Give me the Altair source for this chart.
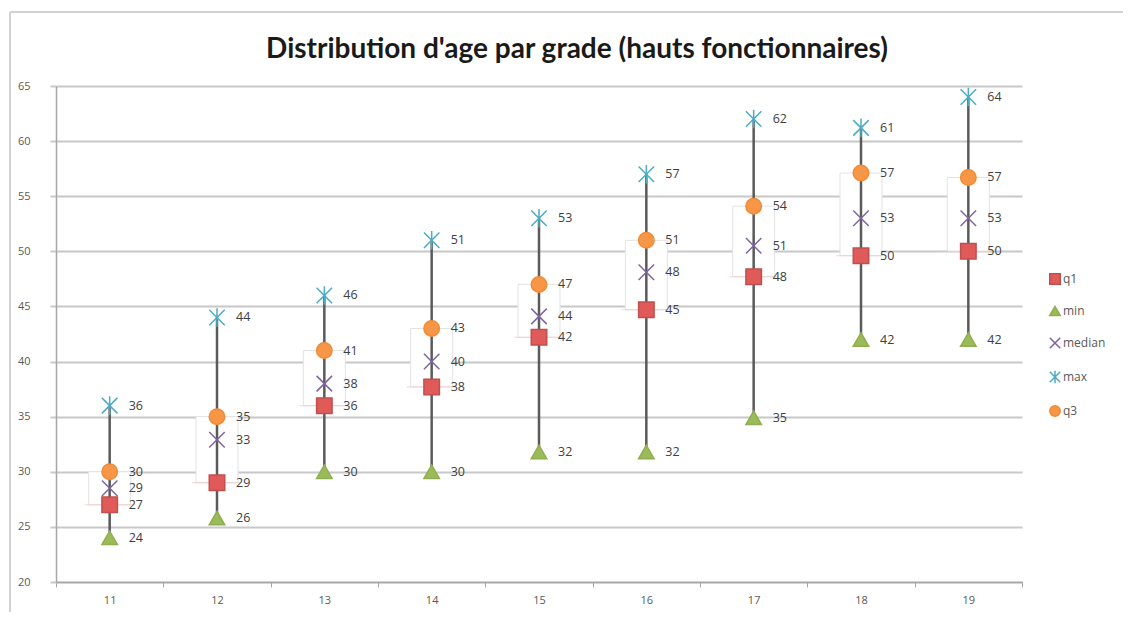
import altair as alt
import pandas as pd

grades = ["11", "12", "13", "14", "15", "16", "17", "18", "19"]
mins = [24, 25.8, 30, 30, 31.8, 31.8, 34.9, 42, 42]
q1s = [27, 29, 36, 37.7, 42.2, 44.7, 47.7, 49.6, 50]
medians = [28.5, 32.9, 38, 40, 44.1, 48.1, 50.5, 53, 53]
q3s = [30, 35, 41, 43, 47, 51, 54.1, 57.1, 56.7]
maxs = [36, 44, 46, 51, 53, 57, 62, 61.2, 64]

title_text = "Distribution d'age par grade (hauts fonctionnaires)"

series_order = ["q1", "min", "median", "max", "q3"]
series_values = {"q1": q1s, "min": mins, "median": medians, "max": maxs, "q3": q3s}

wide = pd.DataFrame({"grade": grades, "min": mins, "q1": q1s,
                     "median": medians, "q3": q3s, "max": maxs})
long = pd.DataFrame([
    {"grade": g, "series": s, "value": v}
    for s in series_order for g, v in zip(grades, series_values[s])
])

FONT = "Open Sans"
xenc = alt.X("grade:N", sort=grades,
             scale=alt.Scale(type="band", paddingInner=0, paddingOuter=0),
             axis=alt.Axis(title=None, labelAngle=0, tickBand="extent", grid=False,
                           domainColor="#a6a6a6", domainWidth=1.5, tickColor="#a6a6a6",
                           tickSize=5, labelPadding=7, labelFont=FONT, labelFontSize=11,
                           labelColor="#595959"))
yscale = alt.Scale(domain=[20, 65], nice=False, zero=False)
yaxis = alt.Axis(title=None, values=list(range(20, 70, 5)), gridColor="#c8c8c8",
                 gridWidth=2, tickColor="#c8c8c8", tickWidth=2, tickSize=6,
                 domainColor="#a6a6a6", domainWidth=1.5, labelPadding=20,
                 labelFont=FONT, labelFontSize=11, labelColor="#595959")

box = alt.Chart(wide).mark_bar(size=42, fill="white", stroke="#e3e3e3", strokeWidth=1).encode(
    x=xenc,
    y=alt.Y("q1:Q", scale=yscale, axis=yaxis),
    y2="q3:Q",
)

q1tick = alt.Chart(wide).mark_tick(size=50, thickness=1, color="#efc4c4").encode(
    x=xenc, y=alt.Y("q1:Q", scale=yscale),
)

rule = alt.Chart(wide).mark_rule(color="#5a5a5a", strokeWidth=2.5).encode(
    x=xenc, y=alt.Y("min:Q", scale=yscale), y2="max:Q",
)

xpath = "M-1,-1L1,1M-1,1L1,-1"
starpath = "M-1,-1L1,1M-1,1L1,-1M0,-1.2L0,1.2"
shape_range = ["square", "triangle-up", xpath, starpath, "circle"]
fill_range = ["#e05a5a", "#9bbb59", "transparent", "transparent", "#f79646"]
stroke_range = ["#c0504d", "#8fae4f", "#8064a2", "#4bacc6", "#f08c38"]

legend = alt.Legend(title=None, orient="none", legendX=993, legendY=187,
                    labelFont=FONT, labelFontSize=12, labelColor="#595959",
                    symbolSize=110, symbolStrokeWidth=1.5, rowPadding=15,
                    labelOffset=2)

points = alt.Chart(long).mark_point(size=240, strokeWidth=1.5, opacity=1).encode(
    x=xenc,
    y=alt.Y("value:Q", scale=yscale),
    shape=alt.Shape("series:N", sort=series_order,
                    scale=alt.Scale(domain=series_order, range=shape_range), legend=legend),
    fill=alt.Fill("series:N", sort=series_order,
                  scale=alt.Scale(domain=series_order, range=fill_range), legend=legend),
    stroke=alt.Stroke("series:N", sort=series_order,
                      scale=alt.Scale(domain=series_order, range=stroke_range), legend=legend),
)

labels = alt.Chart(long).mark_text(align="left", baseline="middle", dx=19,
                                   font=FONT, fontSize=12.5, color="#404040").encode(
    x=xenc,
    y=alt.Y("value:Q", scale=yscale),
    text=alt.Text("value:Q", format=".0f"),
)

one = pd.DataFrame({"k": [0]})
frame_left = alt.Chart(one).mark_rule(color="#d2d2d2", strokeWidth=2).encode(
    x=alt.value(-46), y=alt.value(-74), y2=alt.value(540))
frame_top = alt.Chart(one).mark_rule(color="#d2d2d2", strokeWidth=2).encode(
    x=alt.value(-46), x2=alt.value(1080), y=alt.value(-74))

title = alt.Chart(pd.DataFrame({"t": [title_text]})).mark_text(
    font="Lato", fontSize=28, fontWeight="bold", color="#1a1a1a",
    align="center", baseline="alphabetic").encode(
    text="t:N", x=alt.value(521), y=alt.value(-28))

chart = alt.layer(frame_left, frame_top, box, q1tick, rule, points, labels, title).properties(
    width=966, height=496,
    autosize=alt.AutoSizeParams(type="none"),
    padding={"left": 48, "top": 78, "right": 101, "bottom": 30},
).configure_view(stroke=None)

chart.save("out.html", embed_options={"renderer": "svg", "actions": False})
